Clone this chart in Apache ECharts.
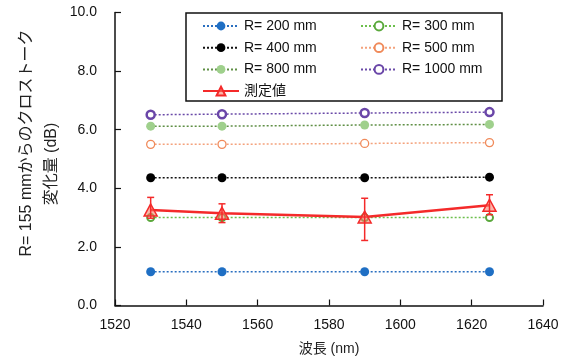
<!DOCTYPE html>
<html>
<head>
<meta charset="utf-8">
<script src="https://cdn.jsdelivr.net/npm/echarts@6/dist/echarts.min.js"></script>
<style>html,body{margin:0;padding:0;background:#fff;}#c{width:570px;height:362px;}</style>
</head>
<body>
<div id="c"></div>
<script>
const wavelengths = [1530, 1550, 1590, 1625];
const r200 = [1.15, 1.15, 1.15, 1.15];
const r300 = [3.00, 3.00, 3.00, 3.00];
const r400 = [4.36, 4.36, 4.36, 4.38];
const r500 = [5.50, 5.50, 5.53, 5.56];
const r800 = [6.12, 6.12, 6.16, 6.18];
const r1000 = [6.51, 6.53, 6.57, 6.60];
const measured = [3.26, 3.15, 3.02, 3.42];
const errLow = [2.98, 2.83, 2.22, 3.10];
const errHigh = [3.69, 3.47, 3.66, 3.78];
const xTicks = [1520, 1540, 1560, 1580, 1600, 1620, 1640];
const yTicks = [0, 2, 4, 6, 8, 10];
const seriesNames = ['R= 200 mm', 'R= 300 mm', 'R= 400 mm', 'R= 500 mm', 'R= 800 mm', 'R= 1000 mm', '測定値'];

const pair = arr => wavelengths.map((w, i) => [w, arr[i]]);
const dotted = (c) => ({color: c, width: 1.5, type: [2, 2]});

const chart = echarts.init(document.getElementById('c'));
const FONT = '"Liberation Sans", Arial, "Noto Sans CJK JP", sans-serif';
const JFONT = '"Liberation Sans", "Noto Sans CJK JP", sans-serif';

const legendText = {fontFamily: JFONT, fontSize: 14, color: '#111', lineHeight: 14};

chart.setOption({
  animation: false,
  backgroundColor: '#fff',
  textStyle: {fontFamily: FONT},
  grid: {left: 115, right: 27, top: 12.5, bottom: 56.5},
  xAxis: {
    type: 'value', min: xTicks[0], max: xTicks[xTicks.length - 1], interval: 20,
    name: '波長 (nm)', nameLocation: 'middle', nameGap: 37,
    nameTextStyle: {fontFamily: JFONT, fontSize: 14, color: '#222'},
    axisLine: {onZero: false, lineStyle: {color: '#111', width: 1.5}},
    axisTick: {inside: true, length: 6, lineStyle: {color: '#111', width: 1.2}},
    axisLabel: {margin: 13, fontSize: 14, color: '#111', fontFamily: FONT, formatter: v => String(v)},
    splitLine: {show: false}
  },
  yAxis: {
    type: 'value', min: yTicks[0], max: yTicks[yTicks.length - 1], interval: 2,
    axisLine: {show: true, lineStyle: {color: '#111', width: 1.5}},
    axisTick: {show: true, inside: true, length: 6, lineStyle: {color: '#111', width: 1.2}},
    axisLabel: {margin: 18, fontSize: 14, color: '#111', fontFamily: FONT, formatter: v => v.toFixed(1)},
    splitLine: {show: false}
  },
  graphic: [
    {type: 'rect', z: 1, shape: {x: 186, y: 13, width: 316, height: 88},
     style: {fill: '#fff', stroke: '#111', lineWidth: 1.5}},
    {type: 'text', x: 27, y: 143, rotation: Math.PI / 2,
     style: {text: 'R= 155 mmからのクロストーク', fontFamily: JFONT, fontSize: 16, fill: '#222',
             align: 'center', verticalAlign: 'middle'}},
    {type: 'text', x: 52, y: 164, rotation: Math.PI / 2,
     style: {text: '変化量 (dB)', fontFamily: JFONT, fontSize: 16, fill: '#222',
             align: 'center', verticalAlign: 'middle'}}
  ],
  legend: [
    {orient: 'vertical', left: 202, top: 19, padding: 0, itemWidth: 36, itemHeight: 11, itemGap: 7.7,
     textStyle: legendText, z: 5,
     data: [seriesNames[0], seriesNames[2], seriesNames[4], seriesNames[6]]},
    {orient: 'vertical', left: 360, top: 19, padding: 0, itemWidth: 36, itemHeight: 11, itemGap: 7.7,
     textStyle: legendText, z: 5,
     data: [seriesNames[1], seriesNames[3], seriesNames[5]]}
  ],
  series: [
    {name: seriesNames[0], type: 'line', data: pair(r200), symbol: 'circle', symbolSize: 9,
     lineStyle: dotted('#2a6fc0'), itemStyle: {color: '#1f6fc4', borderColor: '#1f6fc4', borderWidth: 0}},
    {name: seriesNames[1], type: 'line', data: pair(r300), symbol: 'circle', symbolSize: 7,
     lineStyle: dotted('#6cbf4c'), itemStyle: {color: '#fff', borderColor: '#5aa83c', borderWidth: 2}},
    {name: seriesNames[2], type: 'line', data: pair(r400), symbol: 'circle', symbolSize: 9,
     lineStyle: dotted('#111'), itemStyle: {color: '#000', borderWidth: 0}},
    {name: seriesNames[3], type: 'line', data: pair(r500), symbol: 'circle', symbolSize: 8,
     lineStyle: dotted('#f4a27c'), itemStyle: {color: '#fff', borderColor: '#f08a5a', borderWidth: 1.3}},
    {name: seriesNames[4], type: 'line', data: pair(r800), symbol: 'circle', symbolSize: 9,
     lineStyle: dotted('#5f8f45'), itemStyle: {color: '#9fd08c', borderWidth: 0}},
    {name: seriesNames[5], type: 'line', data: pair(r1000), symbol: 'circle', symbolSize: 8,
     lineStyle: dotted('#6a4aa8'), itemStyle: {color: '#fff', borderColor: '#6a46a8', borderWidth: 2.5}},
    {name: seriesNames[6], type: 'line', data: pair(measured), symbol: 'triangle', symbolSize: [13, 12],
     z: 4, lineStyle: {color: '#f42a2a', width: 2.5},
     itemStyle: {color: 'rgba(250,120,100,0.55)', borderColor: '#f42a2a', borderWidth: 1.5}},
    {name: 'err', type: 'custom', z: 5,
     data: wavelengths.map((w, i) => [w, errLow[i], errHigh[i]]),
     renderItem: function (params, api) {
       const lo = api.coord([api.value(0), api.value(1)]);
       const hi = api.coord([api.value(0), api.value(2)]);
       const h = 3.5;
       const st = {stroke: '#f42a2a', lineWidth: 1.5};
       return {type: 'group', children: [
         {type: 'line', shape: {x1: hi[0], y1: hi[1], x2: lo[0], y2: lo[1]}, style: st},
         {type: 'line', shape: {x1: hi[0] - h, y1: hi[1], x2: hi[0] + h, y2: hi[1]}, style: st},
         {type: 'line', shape: {x1: lo[0] - h, y1: lo[1], x2: lo[0] + h, y2: lo[1]}, style: st}
       ]};
     }}
  ]
});
</script>
</body>
</html>
